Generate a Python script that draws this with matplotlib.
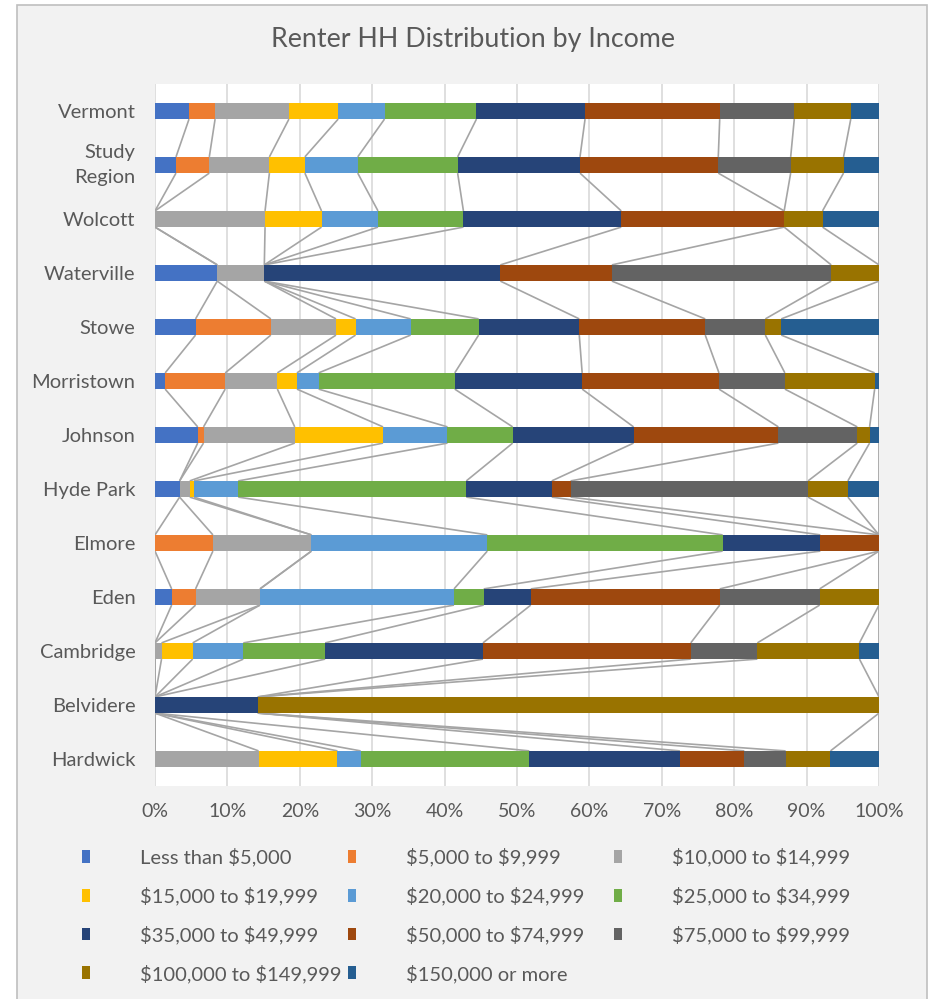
import matplotlib
matplotlib.use("Agg")
import matplotlib.pyplot as plt
from matplotlib.patches import Rectangle, Patch
import numpy as np

plt.rcParams['font.family'] = ['Lato', 'DejaVu Sans']
plt.rcParams['text.parse_math'] = False

categories = ["Vermont", "Study\nRegion", "Wolcott", "Waterville", "Stowe", "Morristown",
              "Johnson", "Hyde Park", "Elmore", "Eden", "Cambridge", "Belvidere", "Hardwick"]

series_names = ["Less than $5,000", "$5,000 to $9,999", "$10,000 to $14,999",
                "$15,000 to $19,999", "$20,000 to $24,999", "$25,000 to $34,999",
                "$35,000 to $49,999", "$50,000 to $74,999", "$75,000 to $99,999",
                "$100,000 to $149,999", "$150,000 or more"]

colors = ["#4472C4", "#ED7D31", "#A5A5A5", "#FFC000", "#5B9BD5", "#70AD47",
          "#264478", "#9E480E", "#636363", "#997300", "#255E91"]

# percent shares per category (rows follow categories, columns follow series_names)
vermont      = [4.7, 3.6, 10.2, 6.8, 6.4, 12.7, 15.0, 18.6, 10.3, 7.8, 3.9]
study_region = [2.9, 4.6, 8.3, 4.9, 7.3, 13.8, 16.9, 19.1, 10.0, 7.3, 4.9]
wolcott      = [0.0, 0.0, 15.2, 7.8, 7.8, 11.8, 21.8, 22.5, 0.0, 5.3, 7.8]
waterville   = [8.6, 0.0, 6.5, 0.0, 0.0, 0.0, 32.6, 15.4, 30.3, 6.6, 0.0]
stowe        = [5.6, 10.4, 9.0, 2.7, 7.6, 9.4, 13.9, 17.4, 8.3, 2.2, 13.5]
morristown   = [1.4, 8.3, 7.2, 2.7, 3.0, 18.8, 17.6, 18.9, 9.1, 12.4, 0.6]
johnson      = [5.9, 0.8, 12.6, 12.2, 8.9, 9.0, 16.7, 20.0, 10.9, 1.7, 1.3]
hyde_park    = [3.4, 0.0, 1.4, 0.6, 6.1, 31.5, 11.8, 2.6, 32.8, 5.5, 4.3]
elmore       = [0.0, 8.0, 13.6, 0.0, 24.3, 32.5, 13.5, 8.1, 0.0, 0.0, 0.0]
eden         = [2.3, 3.3, 8.9, 0.0, 26.8, 4.1, 6.5, 26.1, 13.8, 8.2, 0.0]
cambridge    = [0.0, 0.0, 0.9, 4.3, 7.0, 11.3, 21.8, 28.7, 9.2, 14.1, 2.7]
belvidere    = [0.0, 0.0, 0.0, 0.0, 0.0, 0.0, 14.2, 0.0, 0.0, 85.8, 0.0]
hardwick     = [0.0, 0.0, 14.3, 10.9, 3.2, 23.3, 20.8, 8.9, 5.7, 6.2, 6.7]

xtick_values = [0, 10, 20, 30, 40, 50, 60, 70, 80, 90, 100]
xtick_labels = [f"{v}%" for v in xtick_values]

data = np.array([vermont, study_region, wolcott, waterville, stowe, morristown,
                 johnson, hyde_park, elmore, eden, cambridge, belvidere, hardwick])

W, H = 930, 999
fig = plt.figure(figsize=(W / 100, H / 100), dpi=100, facecolor="white")

# chart frame
fig.patches.append(Rectangle((17 / W, -0.01), (927 - 17) / W, 1.01 - 4.5 / H,
                             transform=fig.transFigure, facecolor="#F2F2F2",
                             edgecolor="#BFBFBF", linewidth=1.2, zorder=-10))

ax = fig.add_axes([155 / W, 1 - 786 / H, (879 - 155) / W, (786 - 84) / H])
ax.set_zorder(1)
ax.set_facecolor("white")

text_color = "#595959"
ypos = np.arange(len(categories))
bar_h = 0.3
left = np.zeros(len(categories))
cum = np.cumsum(data, axis=1)
for i, name in enumerate(series_names):
    ax.barh(ypos, data[:, i], left=left, height=bar_h, color=colors[i],
            label=name, zorder=3, linewidth=0)
    left = left + data[:, i]

# series lines
for i in range(len(series_names)):
    for j in range(len(categories) - 1):
        ax.plot([cum[j, i], cum[j + 1, i]], [ypos[j] + bar_h / 2, ypos[j + 1] - bar_h / 2],
                color="#A5A5A5", lw=1.2, zorder=2, solid_capstyle="butt")

ax.set_xlim(0, 100)
ax.set_ylim(len(categories) - 0.5, -0.5)
ax.set_xticks(xtick_values)
ax.set_xticklabels(xtick_labels)
ax.set_yticks(ypos)
ax.set_yticklabels(categories, linespacing=1.62)
for lbl in ax.get_yticklabels():
    if "\n" in lbl.get_text():
        lbl.set_verticalalignment("center")
ax.tick_params(axis="x", length=0, pad=12, labelsize=14, labelcolor=text_color)
ax.tick_params(axis="y", length=0, pad=14, labelsize=14.5, labelcolor=text_color)
ax.grid(axis="x", color="#D9D9D9", lw=1.2, zorder=1)
ax.grid(axis="y", visible=False)
for s in ax.spines.values():
    s.set_visible(False)
ax.set_axisbelow(True)

fig.text(473 / W, 1 - 40 / H, "Renter HH Distribution by Income", ha="center", va="center",
         fontsize=19.3, color=text_color)

# legend in three columns, row-major order like the reference
handles = [Patch(facecolor=c, edgecolor="none") for c in colors]
col_x = [82, 348, 614]
for c in range(3):
    idx = list(range(c, len(series_names), 3))
    leg = fig.legend([handles[k] for k in idx], [series_names[k] for k in idx],
                     loc="upper left", bbox_to_anchor=(col_x[c] / W, 1 - 848 / H),
                     frameon=False, fontsize=14.5, handlelength=0.42, handleheight=0.6,
                     handletextpad=2.45, labelspacing=1.0, borderpad=0, borderaxespad=0)
    for t in leg.get_texts():
        t.set_color(text_color)

fig.savefig("out.png", dpi=100, facecolor="white")
